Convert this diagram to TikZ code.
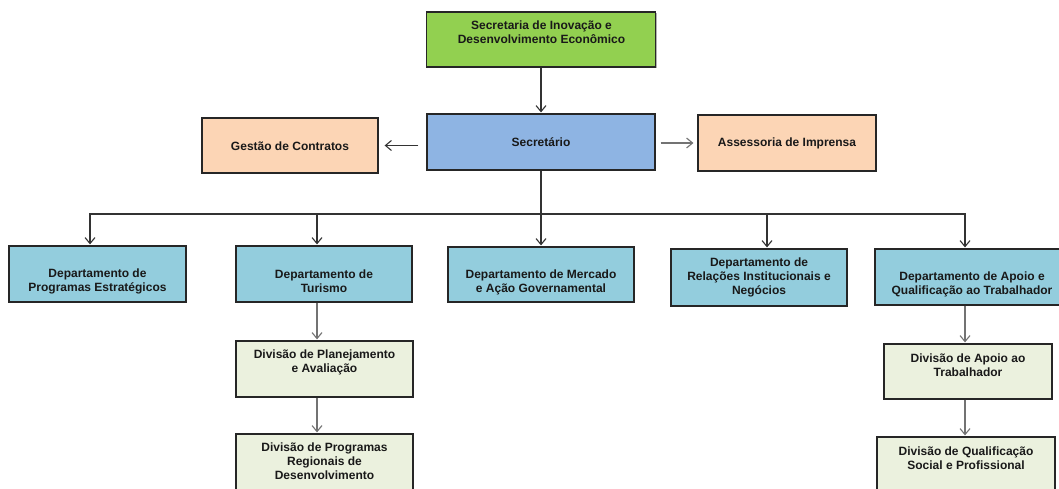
\documentclass[tikz,border=0pt]{standalone}
\usepackage{fontspec}
\setmainfont{Liberation Sans}
\usetikzlibrary{arrows.meta}
\definecolor{cgreen}{HTML}{92D050}
\definecolor{cblue}{HTML}{8EB4E3}
\definecolor{cpeach}{HTML}{FCD5B5}
\definecolor{cdept}{HTML}{93CDDD}
\definecolor{cdiv}{HTML}{EBF1DE}
\begin{document}
\begin{tikzpicture}[x=1pt,y=-1pt,
  box/.style={draw=black!85, line width=1.2pt, rectangle, inner sep=0pt,
    preaction={fill=black!30, transform canvas={shift={(1.3pt,-1.3pt)}}}},
  txt/.style={font=\fontsize{12}{14}\selectfont\bfseries, align=center, text=black!90, inner sep=0pt},
  arr/.style={draw=black!80, line width=1.1pt, -{Straight Barb[length=6pt,width=10pt]}, shorten >=1pt},
  garr/.style={arr, draw=black!55},
]
\clip (0,0) rectangle (1059,489);
\fill[white] (0,0) rectangle (1059,489);

% boxes
\node[box, fill=cgreen, minimum width=229pt, minimum height=55pt] (top) at (541,39.5) {};
\node[box, fill=cblue, minimum width=228pt, minimum height=56pt] (sec) at (541,142) {};
\node[box, fill=cpeach, minimum width=176pt, minimum height=55pt] (gest) at (290,145.5) {};
\node[box, fill=cpeach, minimum width=178pt, minimum height=56pt] (asse) at (787,143) {};
\node[box, fill=cdept, minimum width=177pt, minimum height=56pt] (d1) at (97.5,274) {};
\node[box, fill=cdept, minimum width=176pt, minimum height=56pt] (d2) at (324,274) {};
\node[box, fill=cdept, minimum width=186pt, minimum height=55pt] (d3) at (541,274.5) {};
\node[box, fill=cdept, minimum width=176pt, minimum height=57pt] (d4) at (759,277.5) {};
\node[box, fill=cdept, minimum width=194pt, minimum height=56pt] (d5) at (972,277) {};
\node[box, fill=cdiv, minimum width=177pt, minimum height=56pt] (v1) at (324.5,369) {};
\node[box, fill=cdiv, minimum width=177pt, minimum height=56pt] (v2) at (324.5,462) {};
\node[box, fill=cdiv, minimum width=168pt, minimum height=55pt] (v3) at (968,371.5) {};
\node[box, fill=cdiv, minimum width=178pt, minimum height=56pt] (v4) at (966,465) {};

% texts
\node[txt] (topT) at (541.5,32) {Secretaria de Inovação e\\Desenvolvimento Econômico};
\node[txt] (secT) at (541,142) {Secretário};
\node[txt] (gestT) at (290,146.5) {Gestão de Contratos};
\node[txt] (asseT) at (787,143) {Assessoria de Imprensa};
\node[txt] (d1T) at (97.5,281) {Departamento de\\Programas Estratégicos};
\node[txt] (d2T) at (324,281) {Departamento de\\Turismo};
\node[txt] (d3T) at (541,282.5) {Departamento de Mercado\\e Ação Governamental};
\node[txt] (d4T) at (759,277) {Departamento de\\Relações Institucionais e\\Negócios};
\node[txt] (d5T) at (972,284) {Departamento de Apoio e\\Qualificação ao Trabalhador};
\node[txt] (v1T) at (324.5,362) {Divisão de Planejamento\\e Avaliação};
\node[txt] (v2T) at (324.5,461) {Divisão de Programas\\Regionais de\\Desenvolvimento};
\node[txt] (v3T) at (968,365.3) {Divisão de Apoio ao\\Trabalhador};
\node[txt] (v4T) at (966,458) {Divisão de Qualificação\\Social e Profissional};

% connectors
\coordinate (bus) at (541,214);
\draw[arr] (top.south) -- (top.south |- sec.north);
\draw[arr, shorten <=8pt, shorten >=6pt] (sec.west |- gest.east) -- (gest.east);
\draw[garr, shorten <=5pt, shorten >=4pt] (sec.east |- asse.west) -- (asse.west);
\draw[arr] (sec.south) |- ([xshift=-7.5pt]d1.north |- bus) -- ([xshift=-7.5pt]d1.north);
\draw[arr] (sec.south) |- ([xshift=-7pt]d2.north |- bus) -- ([xshift=-7pt]d2.north);
\draw[arr] (sec.south) -- (d3.north);
\draw[arr] (sec.south) |- ([xshift=8pt]d4.north |- bus) -- ([xshift=8pt]d4.north);
\draw[arr] (sec.south) |- ([xshift=-7pt]d5.north |- bus) -- ([xshift=-7pt]d5.north);
\draw[garr] ([xshift=-7pt]d2.south) -- ([xshift=-7pt]d2.south |- v1.north);
\draw[garr] ([xshift=-7.5pt]v1.south) -- ([xshift=-7.5pt]v1.south |- v2.north);
\draw[garr] ([xshift=-7pt]d5.south) -- ([xshift=-7pt]d5.south |- v3.north);
\draw[garr] ([xshift=-3pt]v3.south) -- ([xshift=-3pt]v3.south |- v4.north);
\end{tikzpicture}
\end{document}
